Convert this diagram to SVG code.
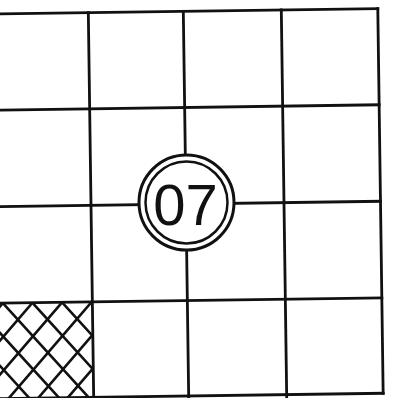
<svg xmlns="http://www.w3.org/2000/svg" width="407" height="398" viewBox="0 0 407 398">
  <style>
    .grid { stroke: #111; stroke-width: 2.8; fill: none; stroke-linecap: square; }
    .hatch { stroke: #111; stroke-width: 2.6; fill: none; }
    .ring { fill: #fff; stroke: #111; }
    .label { font-family: "Liberation Sans", Arial, sans-serif; font-size: 58px; fill: #111; text-anchor: middle; }
  </style>
  <defs>
    <clipPath id="hatchClip">
      <rect x="-10" y="300.6" width="101" height="100"/>
    </clipPath>
  </defs>
  <rect width="407" height="398" fill="#fff"/>
  <g id="connectors" transform="rotate(-0.8 186 204)">
    <g id="hatch-cell" clip-path="url(#hatchClip)" class="hatch">
      <path d="M-87.3,300.6 l88.5,100 M-57.7,300.6 l88.5,100 M-28.1,300.6 l88.5,100 M1.5,300.6 l88.5,100 M31.1,300.6 l88.5,100 M60.7,300.6 l88.5,100"/>
      <path d="M1.5,300.6 l-88.5,100 M31.1,300.6 l-88.5,100 M60.7,300.6 l-88.5,100 M90.3,300.6 l-88.5,100 M119.9,300.6 l-88.5,100 M149.5,300.6 l-88.5,100 M179.1,300.6 l-88.5,100"/>
    </g>
    <g id="grid-lines" class="grid">
      <line x1="-10" y1="11.3" x2="380.5" y2="11.3"/>
      <line x1="-10" y1="107.5" x2="380.5" y2="107.5"/>
      <line x1="-10" y1="204" x2="380.5" y2="204"/>
      <line x1="-10" y1="300.6" x2="380.5" y2="300.6"/>
      <line x1="-10" y1="396" x2="380.5" y2="396"/>
      <line x1="91" y1="11.3" x2="91" y2="400"/>
      <line x1="186" y1="11.3" x2="186" y2="400"/>
      <line x1="284" y1="11.3" x2="284" y2="400"/>
      <line x1="380.5" y1="11.3" x2="380.5" y2="396"/>
    </g>
  </g>
  <g id="node-07">
    <circle class="ring" cx="186.5" cy="202.5" r="47.5" stroke-width="3"/>
    <circle class="ring" cx="186.5" cy="202.5" r="41" stroke-width="2.5"/>
    <text class="label" x="185.5" y="225">07</text>
  </g>
</svg>
